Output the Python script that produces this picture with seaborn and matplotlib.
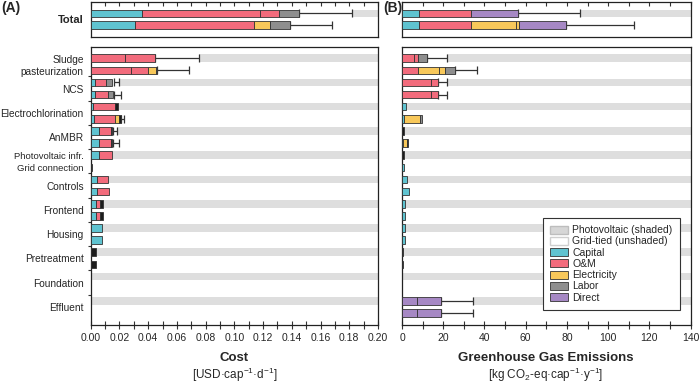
import numpy as np
import matplotlib
matplotlib.use("Agg")
import matplotlib.pyplot as plt
from matplotlib.patches import Patch
import seaborn as sns

sns.set_style("ticks")
plt.rcParams['font.family'] = ['Liberation Sans', 'DejaVu Sans']
plt.rcParams['mathtext.fontset'] = 'custom'
plt.rcParams['mathtext.rm'] = 'Liberation Sans'
plt.rcParams['axes.edgecolor'] = '#222222'
plt.rcParams['axes.linewidth'] = 0.9

# groups, top to bottom; each has a photovoltaic row then a grid-tied row
groups = ["Sludge\npasteurization", "NCS", "Electrochlorination", "AnMBR", "",
          "Controls", "Frontend", "Housing", "Pretreatment", "Foundation", "Effluent"]
split_labels = ["Photovoltaic infr.", "Grid connection"]   # rows of group 5

nan = np.nan

# ---- cost [USD/cap/d], 22 rows (PV, grid per group)
cost_capital = [0, 0, 0.003, 0.003, 0.0018, 0.0023, 0.006, 0.006, 0.006, 0,
                0.0046, 0.0046, 0.0037, 0.0037, 0.0081, 0.0081, 0, 0, 0, 0, 0, 0]
cost_om = [0.0239, 0.0279, 0.0077, 0.0088, 0.0151, 0.0149, 0.0081, 0.0081, 0.0086, 0,
           0.0077, 0.0084, 0.0028, 0.0028, 0, 0, 0, 0, 0, 0, 0, 0]
cost_om2 = [0.0209, 0.0118, 0, 0, 0, 0, 0, 0, 0, 0,
            0, 0, 0, 0, 0, 0, 0, 0, 0, 0, 0, 0]
cost_elec = [0, 0.0058, 0, 0, 0, 0.0027, 0, 0, 0, 0,
             0, 0, 0, 0, 0, 0, 0, 0, 0, 0, 0, 0]
cost_labor = [0, 0.0009, 0.0039, 0.004, 0, 0, 0, 0, 0, 0,
              0, 0, 0, 0, 0, 0, 0, 0, 0, 0, 0, 0]
cost_minor = [0, 0, 0, 0, 0.0022, 0.001, 0.0008, 0.0008, 0, 0.0011,
              0, 0, 0.0018, 0.0018, 0, 0, 0.0035, 0.0035, 0, 0, 0, 0]
cost_err_lo = [nan, nan, 0.0165, 0.0165, nan, nan, 0.0158, 0.0158, nan, nan,
               nan, nan, nan, nan, nan, nan, nan, nan, nan, nan, nan, nan]
cost_err_hi = [0.0757, 0.0687, 0.0197, 0.0211, nan, 0.0232, 0.0185, 0.0195, nan, nan,
               nan, nan, nan, nan, nan, nan, nan, nan, nan, nan, nan, nan]

# ---- GHG [kg CO2-eq/cap/y]
ghg_capital = [0, 0, 0, 0, 1.8, 1.1, 0, 0.6, 0, 1.0,
               2.3, 3.4, 1.6, 1.6, 1.6, 1.6, 0, 0, 0, 0, 0, 0]
ghg_om = [6.0, 7.9, 13.9, 13.9, 0, 0, 0, 0, 0, 0,
          0, 0, 0, 0, 0, 0, 0, 0, 0, 0, 0, 0]
ghg_om2 = [1.9, 0, 3.7, 3.7, 0, 0, 0, 0, 0, 0,
           0, 0, 0, 0, 0, 0, 0, 0, 0, 0, 0, 0]
ghg_elec = [0, 10.2, 0, 0, 0, 7.6, 0, 1.7, 0, 0,
            0, 0, 0, 0, 0, 0, 0, 0, 0, 0, 0, 0]
ghg_elec2 = [0, 2.8, 0, 0, 0, 0, 0, 0, 0, 0,
             0, 0, 0, 0, 0, 0, 0, 0, 0, 0, 0, 0]
ghg_labor = [4.4, 4.8, 0, 0, 0, 1.2, 0, 0, 0, 0,
             0, 0, 0, 0, 0, 0, 0, 0, 0, 0, 0, 0]
ghg_direct = [0, 0, 0, 0, 0, 0, 0, 0, 0, 0,
              0, 0, 0, 0, 0, 0, 0, 0, 0, 0, 7.1, 7.1]
ghg_direct2 = [0, 0, 0, 0, 0, 0, 0, 0, 0, 0,
               0, 0, 0, 0, 0, 0, 0, 0, 0, 0, 11.7, 11.7]
ghg_minor = [0, 0, 0, 0, 0, 0, 0.8, 0.5, 1.1, 0,
             0, 0, 0, 0, 0, 0, 0.3, 0.3, 0, 0, 0, 0]
ghg_err_lo = [nan] * 22
ghg_err_hi = [22.0, 36.2, 21.7, 21.7, nan, nan, nan, nan, nan, nan,
              nan, nan, nan, nan, nan, nan, nan, nan, nan, nan, 34.6, 34.6]

# ---- totals (PV, grid)
tot_cost_capital = [0.036, 0.031]
tot_cost_om = [0.082, 0.083]
tot_cost_om2 = [0.013, 0]
tot_cost_elec = [0, 0.011]
tot_cost_labor = [0.014, 0.014]
tot_cost_err = [0.182, 0.168]
tot_ghg_capital = [8.4, 8.4]
tot_ghg_om = [25.1, 25.1]
tot_ghg_elec = [0, 21.6]
tot_ghg_elec2 = [0, 1.8]
tot_ghg_direct = [22.6, 22.8]
tot_ghg_err = [86.3, 112.5]

colors = {"Capital": "#5fc3d0", "O&M": "#f26b7c", "Electricity": "#f8c85a",
          "Labor": "#8e8e8e", "Direct": "#a688c4", "minor": "#1c1c1c"}
band = "#dedede"
edge = "#333333"
H = 0.62


def draw(ax, pieces, err_lo, err_hi, xmax):
    n = len(pieces[0][1])
    rows = np.arange(n)
    left = np.zeros(n)
    for comp, vals in pieces:
        vals = np.asarray(vals, float)
        m = vals > 0
        ax.barh(rows[m], vals[m], left=left[m], height=H, color=colors[comp],
                edgecolor=edge, linewidth=0.6, zorder=3)
        left += vals
    err_lo = np.asarray(err_lo, float)
    err_hi = np.asarray(err_hi, float)
    hi = np.where(np.isnan(err_hi), left, err_hi)
    lo = np.where(np.isnan(err_lo), left, err_lo)
    m = ~np.isnan(err_hi)
    ax.errorbar((lo[m] + hi[m]) / 2, rows[m], xerr=(hi[m] - lo[m]) / 2, fmt='none',
                ecolor=edge, elinewidth=0.9, capsize=2.6, capthick=0.9, zorder=2)
    pv = rows % 2 == 0
    ax.barh(rows[pv], xmax - hi[pv], left=hi[pv], height=H, color=band,
            linewidth=0, zorder=1)


fig = plt.figure(figsize=(7, 3.86), dpi=100)
axA_top = fig.add_axes([0.1296, 0.9049, 0.4104, 0.0911])
axB_top = fig.add_axes([0.5743, 0.9049, 0.4124, 0.0911])
axA = fig.add_axes([0.1296, 0.158, 0.4104, 0.721])
axB = fig.add_axes([0.5743, 0.158, 0.4124, 0.721])

draw(axA_top, [("Capital", tot_cost_capital), ("O&M", tot_cost_om), ("O&M", tot_cost_om2),
               ("Electricity", tot_cost_elec), ("Labor", tot_cost_labor)],
     [nan, nan], tot_cost_err, 0.20)
draw(axB_top, [("Capital", tot_ghg_capital), ("O&M", tot_ghg_om), ("Electricity", tot_ghg_elec),
               ("Electricity", tot_ghg_elec2), ("Direct", tot_ghg_direct)],
     [nan, nan], tot_ghg_err, 140)
draw(axA, [("Capital", cost_capital), ("O&M", cost_om), ("O&M", cost_om2),
           ("Electricity", cost_elec), ("Labor", cost_labor), ("minor", cost_minor)],
     cost_err_lo, cost_err_hi, 0.20)
draw(axB, [("Capital", ghg_capital), ("O&M", ghg_om), ("O&M", ghg_om2),
           ("Electricity", ghg_elec), ("Electricity", ghg_elec2), ("Labor", ghg_labor),
           ("Direct", ghg_direct), ("Direct", ghg_direct2), ("minor", ghg_minor)],
     ghg_err_lo, ghg_err_hi, 140)

for ax, xmax, step in [(axA_top, 0.20, 0.01), (axB_top, 140, 10)]:
    ax.set_xlim(0, xmax)
    ax.set_ylim(2.0, -1.0)
    ax.set_xticks(np.arange(0, xmax + step / 2, step))
    ax.tick_params(axis='x', top=True, bottom=False, labeltop=False, labelbottom=False,
                   direction='in', length=3, width=0.8, color=edge)
    ax.set_yticks([])
axA_top.set_yticks([0.5], ["Total"], fontweight='bold', fontsize=8)
axA_top.tick_params(axis='y', length=0, pad=5)

ticks_y, labels_y = [], []
for i, g in enumerate(groups):
    if g == "":
        ticks_y += [2 * i, 2 * i + 1]
        labels_y += split_labels
    else:
        ticks_y.append(2 * i + 0.5)
        labels_y.append(g)

for ax, xmax, major, minor in [(axA, 0.20, 0.02, 0.01), (axB, 140, 20, 10)]:
    ax.set_xlim(0, xmax)
    ax.set_ylim(22.0, -0.95)
    ax.set_xticks(np.arange(0, xmax + major / 2, major))
    ax.set_xticks(np.arange(0, xmax + minor / 2, minor), minor=True)
    ax.tick_params(axis='x', which='both', direction='inout', length=5.5, width=0.8,
                   color=edge, labelsize=7.5, pad=3)
    ax.set_yticks([])

axA.xaxis.set_major_formatter(matplotlib.ticker.FormatStrFormatter('%.2f'))
axA.set_yticks(ticks_y, labels_y, fontsize=7.3)
for lab in axA.get_yticklabels():
    if lab.get_text() in split_labels:
        lab.set_fontsize(6.8)
axA.set_yticks(np.arange(1.5, 21, 2), minor=True)
axA.tick_params(axis='y', which='major', length=0, pad=5)
axA.tick_params(axis='y', which='minor', length=2.5, width=0.8, color=edge, direction='out')

fig.text(0.335, 0.0725, "Cost", fontsize=9.5, fontweight='bold', ha='center', va='center')
fig.text(0.335, 0.028, r"[USD·cap$^{-1}$·d$^{-1}$]", fontsize=8.5, ha='center', va='center')
fig.text(0.78, 0.0725, "Greenhouse Gas Emissions", fontsize=9.5, fontweight='bold',
         ha='center', va='center')
fig.text(0.78, 0.028, r"[kg CO$_{2}$-eq·cap$^{-1}$·y$^{-1}$]", fontsize=8.5,
         ha='center', va='center')
fig.text(0.002, 0.978, "(A)", fontsize=10, fontweight='bold', va='center')
fig.text(0.547, 0.978, "(B)", fontsize=10, fontweight='bold', va='center')

handles = [Patch(facecolor="#d6d6d6", edgecolor="#bdbdbd", label="Photovoltaic (shaded)"),
           Patch(facecolor="white", edgecolor="#cfcfcf", label="Grid-tied (unshaded)")]
for comp in ["Capital", "O&M", "Electricity", "Labor", "Direct"]:
    handles.append(Patch(facecolor=colors[comp], edgecolor=edge, linewidth=0.6, label=comp))
leg = axB.legend(handles=handles, loc='lower right', bbox_to_anchor=(0.963, 0.054),
                 borderaxespad=0, fontsize=7.5, handlelength=1.7, handleheight=0.8,
                 labelspacing=0.12, handletextpad=0.45, borderpad=0.7, fancybox=False,
                 framealpha=1, edgecolor=edge)
leg.get_frame().set_linewidth(0.8)

fig.savefig("out.png", dpi=100)
